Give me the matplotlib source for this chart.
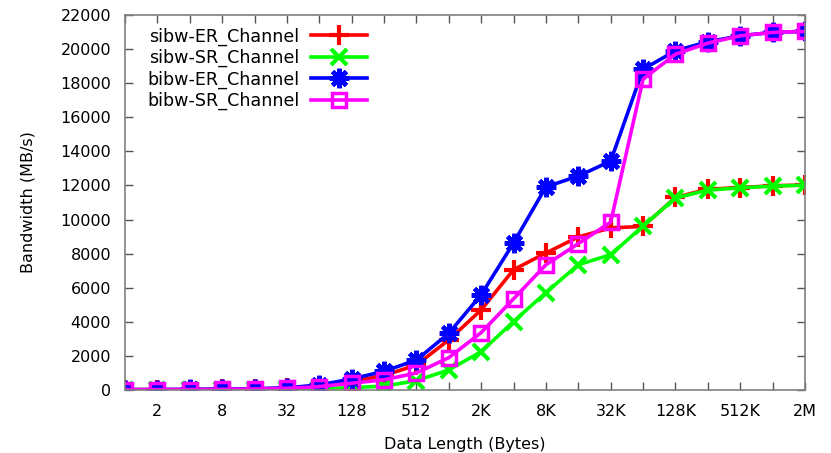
import matplotlib
matplotlib.use("Agg")
import matplotlib.pyplot as plt
from matplotlib.ticker import FixedLocator, NullLocator

sizes = [2 ** i for i in range(22)]
tick_labels = ["", "2", "", "8", "", "32", "", "128", "", "512", "", "2K", "", "8K",
               "", "32K", "", "128K", "", "512K", "", "2M"]

sibw_er = [20, 25, 30, 40, 60, 100, 220, 500, 850, 1470, 2940, 4700, 7060, 8040,
           8980, 9510, 9600, 11300, 11780, 11880, 11980, 12030]
sibw_sr = [10, 12, 15, 20, 30, 50, 80, 140, 230, 550, 1180, 2250, 4020, 5720,
           7350, 7940, 9620, 11260, 11730, 11860, 11960, 12020]
bibw_er = [25, 30, 40, 50, 80, 130, 300, 650, 1100, 1760, 3330, 5590, 8630, 11920,
           12550, 13430, 18820, 19900, 20430, 20780, 20980, 21040]
bibw_sr = [20, 25, 30, 40, 60, 100, 200, 400, 600, 1000, 1900, 3370, 5350, 7350,
           8590, 9850, 18240, 19700, 20350, 20780, 20980, 21040]

plt.rcParams['font.family'] = ['DejaVu Sans']
fs = 11.5

fig = plt.figure(figsize=(8.31, 4.53), dpi=100)
ax = fig.add_axes([0.1504, 0.139, 0.9687 - 0.1504, 0.9669 - 0.139])

lw = 2.6
ax.plot(sizes, sibw_er, color='#ff0000', lw=lw, marker='+', ms=14, mew=3,
        label='sibw-ER_Channel')
ax.plot(sizes, sibw_sr, color='#00ff00', lw=lw, marker='x', ms=12, mew=3,
        label='sibw-SR_Channel')
ax.plot(sizes, bibw_er, color='#0000ff', lw=lw, marker=(8, 2, 0), ms=14, mew=3.3,
        label='bibw-ER_Channel')
ax.plot(sizes, bibw_sr, color='#ff00ff', lw=lw, marker='s', ms=10, mew=2.5,
        mfc='none', label='bibw-SR_Channel')

ax.set_xscale('log', base=2)
ax.set_xlim(1, 2 ** 21)
ax.set_ylim(0, 22000)
ax.xaxis.set_major_locator(FixedLocator(sizes))
ax.xaxis.set_minor_locator(NullLocator())
ax.set_xticklabels(tick_labels)
ax.set_yticks(range(0, 22001, 2000))

ax.tick_params(axis='both', direction='in', top=True, right=True, length=6,
               width=1, color='#555555', labelsize=fs, pad=10)
for s in ax.spines.values():
    s.set_color('#808080')
    s.set_linewidth(1.2)

ax.set_xlabel('Data Length (Bytes)', fontsize=fs, labelpad=13)
ax.set_ylabel('Bandwidth (MB/s)', fontsize=fs, labelpad=18)

leg = ax.legend(loc='upper left', bbox_to_anchor=(0.022, 0.986), frameon=False,
                markerfirst=False, fontsize=12.6, handlelength=3.2,
                labelspacing=0.19, borderaxespad=0.0, handletextpad=0.7)

fig.savefig('out.png', dpi=100)
